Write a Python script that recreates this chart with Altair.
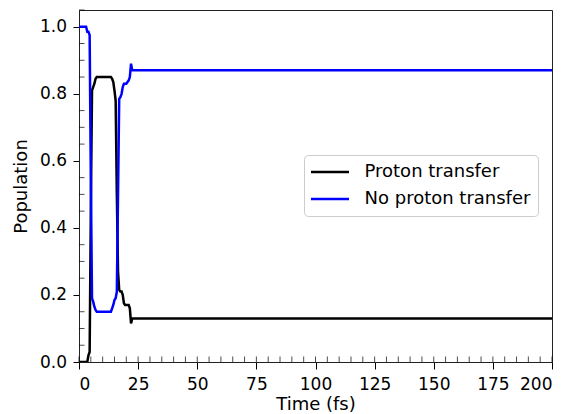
import altair as alt
import pandas as pd

# time grid (fs)
times = [0.0, 0.5, 1.0, 1.5, 2.0, 2.5, 3.0, 3.5, 4.0, 4.5, 5.0, 5.5, 6.0, 6.5, 7.0, 7.5,
         8.0, 8.5, 9.0, 9.5, 10.0, 10.5, 11.0, 11.5, 12.0, 12.5, 13.0, 13.5, 14.0, 14.5,
         15.0, 15.5, 16.0, 16.5, 17.0, 17.5, 18.0, 18.5, 19.0, 19.5, 20.0, 20.5, 21.0,
         21.5, 22.0, 22.5, 23.0, 200.0]

proton_transfer = [0.0, 0.0, 0.0, 0.0, 0.0, 0.0, 0.0, 0.0, 0.02, 0.03, 0.45, 0.81, 0.82, 0.83,
                   0.845, 0.85, 0.85, 0.85, 0.85, 0.85, 0.85, 0.85, 0.85, 0.85, 0.85, 0.85,
                   0.85, 0.85, 0.845, 0.835, 0.81, 0.78, 0.5, 0.27, 0.215, 0.21, 0.21, 0.20,
                   0.175, 0.17, 0.17, 0.17, 0.17, 0.16, 0.115, 0.13, 0.13, 0.13]

no_proton_transfer = [1.0, 1.0, 1.0, 1.0, 1.0, 1.0, 1.0, 0.985, 0.985, 0.975, 0.55, 0.19, 0.18,
                      0.165, 0.155, 0.15, 0.15, 0.15, 0.15, 0.15, 0.15, 0.15, 0.15, 0.15, 0.15,
                      0.15, 0.15, 0.15, 0.16, 0.17, 0.185, 0.19, 0.21, 0.5, 0.785, 0.79, 0.80,
                      0.82, 0.83, 0.83, 0.83, 0.835, 0.84, 0.85, 0.89, 0.87, 0.87, 0.87]

series_names = ["Proton transfer", "No proton transfer"]
series_colors = ["#000000", "#0000ff"]

x_major = [0, 25, 50, 75, 100, 125, 150, 175, 200]
x_minor = list(range(0, 201, 5))
y_major = [0.0, 0.2, 0.4, 0.6, 0.8, 1.0]
y_minor = [round(i * 0.05, 2) for i in range(0, 22) if i % 4 != 0]

rows = []
for t, a, b in zip(times, proton_transfer, no_proton_transfer):
    rows.append({"t": t, "pop": a, "series": series_names[0], "order": 0})
    rows.append({"t": t, "pop": b, "series": series_names[1], "order": 1})
df = pd.DataFrame(rows)

FONT = "DejaVu Sans"
W, H = 473, 352
AX = "#000000"

xscale = alt.Scale(domain=[0, 200], nice=False, zero=False)
yscale = alt.Scale(domain=[0, 1.05], nice=False, zero=False)

xaxis = alt.Axis(values=x_major, format="d", title="Time (fs)", orient="bottom",
                 tickSize=7, labelPadding=7, titlePadding=3, grid=False)
yaxis = alt.Axis(values=y_major, format=".1f", title="Population", orient="left",
                 tickSize=6, labelPadding=6.5, titlePadding=9, grid=False)

main = alt.Chart(df).mark_line(strokeWidth=2.5, clip=True).encode(
    x=alt.X("t:Q", scale=xscale, axis=xaxis),
    y=alt.Y("pop:Q", scale=yscale, axis=yaxis),
    color=alt.Color("series:N",
                    scale=alt.Scale(domain=series_names, range=series_colors),
                    legend=alt.Legend(title=None, orient="none", legendX=225, legendY=145,
                                      symbolType="M-2.375,0H2.375", symbolSize=256,
                                      symbolStrokeWidth=2.5, symbolOffset=9,
                                      labelOffset=25, rowPadding=8, padding=7.5,
                                      strokeColor="#cccccc", cornerRadius=4,
                                      fillColor="#ffffff", labelFontSize=18,
                                      labelLimit=400,
                                      labelFont=FONT, labelColor="#000000")),
    detail="series:N",
    order="order:Q",
)

xminor_df = pd.DataFrame({"v": x_minor})
yminor_df = pd.DataFrame({"v": y_minor})

xminor = alt.Chart(xminor_df).mark_tick(
    orient="vertical", size=5.5, thickness=1, yOffset=-2.75, color=AX
).encode(
    x=alt.X("v:Q", scale=xscale, axis=xaxis),
    y=alt.YDatum(0, scale=yscale, axis=yaxis),
)

yminor = alt.Chart(yminor_df).mark_tick(
    orient="horizontal", size=5.5, thickness=1, xOffset=2.75, color=AX
).encode(
    y=alt.Y("v:Q", scale=yscale, axis=yaxis),
    x=alt.XDatum(0, scale=xscale, axis=xaxis),
)

chart = alt.layer(main, xminor, yminor).properties(
    width=W, height=H,
    autosize=alt.AutoSizeParams(type="none"),
    padding={"left": 79, "top": 10, "right": 26, "bottom": 52},
).configure_view(
    stroke="#222222", strokeWidth=1
).configure_axis(
    labelFont=FONT, titleFont=FONT, labelFontSize=17, titleFontSize=18,
    titleFontWeight="normal", labelColor="#000000", titleColor="#000000",
    tickColor=AX, domainColor="#222222", tickWidth=1, domainWidth=1,
)

chart.save("out.html", embed_options={"renderer": "svg", "actions": False})
